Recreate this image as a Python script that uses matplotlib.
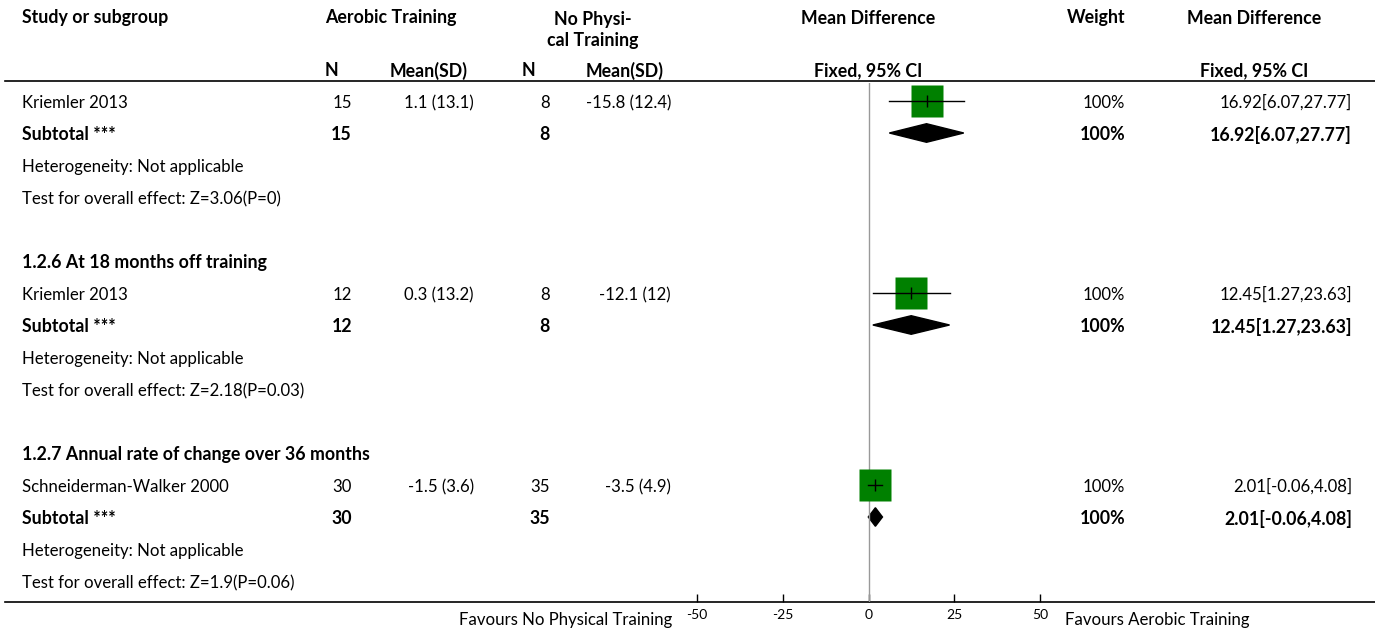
import matplotlib
matplotlib.use('Agg')
import matplotlib.pyplot as plt
from matplotlib.patches import Polygon

plt.rcParams['font.family'] = ['Lato', 'DejaVu Sans']

# rows of the forest table, top to bottom
labels = ['Kriemler 2013', 'Subtotal ***', 'Heterogeneity: Not applicable',
          'Test for overall effect: Z=3.06(P=0)', '',
          '1.2.6 At 18 months off training', 'Kriemler 2013', 'Subtotal ***',
          'Heterogeneity: Not applicable', 'Test for overall effect: Z=2.18(P=0.03)', '',
          '1.2.7 Annual rate of change over 36 months', 'Schneiderman-Walker 2000',
          'Subtotal ***', 'Heterogeneity: Not applicable',
          'Test for overall effect: Z=1.9(P=0.06)']
kinds = ['study', 'sub', 'txt', 'txt', 'blank',
         'head', 'study', 'sub', 'txt', 'txt', 'blank',
         'head', 'study', 'sub', 'txt', 'txt']
n_aer = ['15', '15', '', '', '', '', '12', '12', '', '', '', '', '30', '30', '', '']
mean_aer = ['1.1 (13.1)', '', '', '', '', '', '0.3 (13.2)', '', '', '', '', '', '-1.5 (3.6)', '', '', '']
n_ctl = ['8', '8', '', '', '', '', '8', '8', '', '', '', '', '35', '35', '', '']
mean_ctl = ['-15.8 (12.4)', '', '', '', '', '', '-12.1 (12)', '', '', '', '', '', '-3.5 (4.9)', '', '', '']
weight = ['100%', '100%', '', '', '', '', '100%', '100%', '', '', '', '', '100%', '100%', '', '']
md = [16.92, 16.92, None, None, None, None, 12.45, 12.45, None, None, None, None, 2.01, 2.01, None, None]
lo = [6.07, 6.07, None, None, None, None, 1.27, 1.27, None, None, None, None, -0.06, -0.06, None, None]
hi = [27.77, 27.77, None, None, None, None, 23.63, 23.63, None, None, None, None, 4.08, 4.08, None, None]
ticks = [-50, -25, 0, 25, 50]

W, H = 1375, 633
ROW0, STEP = 101, 32
DY = 0.06  # small nudge so text sits on the row centre


def py(px):
    return (px - ROW0) / STEP


fig = plt.figure(figsize=(W / 100, H / 100), dpi=100)
ax = fig.add_axes([0, 0, 1, 1])
ax.set_xlim(0, W)
ax.set_ylim(py(H), py(0))
ax.axis('off')

fs = 12.1
bold = dict(fontsize=12.8, fontweight='bold', va='center')
norm = dict(fontsize=fs, va='center')

# headers
ax.text(22, py(18), 'Study or subgroup', ha='left', **bold)
ax.text(391, py(18), 'Aerobic Training', ha='center', **bold)
ax.text(593, py(30), 'No Physi-\ncal Training', ha='center', multialignment='center',
        linespacing=1.25, **bold)
ax.text(868, py(18), 'Mean Difference', ha='center', **bold)
ax.text(1096, py(18), 'Weight', ha='center', **bold)
ax.text(1254, py(18), 'Mean Difference', ha='center', **bold)
for x, t in [(331, 'N'), (429, 'Mean(SD)'), (528, 'N'), (625, 'Mean(SD)'),
             (868, 'Fixed, 95% CI'), (1254, 'Fixed, 95% CI')]:
    ax.text(x, py(71), t, ha='center', **bold)
ax.plot([5, W], [py(81), py(81)], color='black', lw=1.2)
ax.plot([5, W], [py(602), py(602)], color='black', lw=1.2)

for i, lab in enumerate(labels):
    k = kinds[i]
    st = bold if k in ('sub', 'head') else norm
    y = i + DY
    ax.text(22, y, lab, ha='left', **st)
    ax.text(352, y, n_aer[i], ha='right', **st)
    ax.text(474, y, mean_aer[i], ha='right', **st)
    ax.text(550, y, n_ctl[i], ha='right', **st)
    ax.text(671, y, mean_ctl[i], ha='right', **st)
    ax.text(1125, y, weight[i], ha='right', **st)
    if md[i] is not None:
        ax.text(1352, y, f'{md[i]:.2f}[{lo[i]:.2f},{hi[i]:.2f}]', ha='right', **st)

ax.text(672, py(620), 'Favours No Physical Training', ha='right', **norm)
ax.text(1065, py(620), 'Favours Aerobic Training', ha='left', **norm)

# forest panel
fx = fig.add_axes([697 / W, (H - 602) / H, 343 / W, (602 - 83) / H])
fx.set_xlim(-50, 50)
fx.set_ylim(py(602), py(83))
fx.patch.set_alpha(0)
for s in ['top', 'left', 'right', 'bottom']:
    fx.spines[s].set_visible(False)
fx.set_yticks([])
fx.set_xticks(ticks)
fx.set_xticklabels([str(t) for t in ticks])
fx.tick_params(axis='x', direction='in', length=6, width=1, labelsize=10, pad=5)
fx.axvline(0, color='#999999', lw=1)

for i in range(len(labels)):
    if md[i] is None:
        continue
    if kinds[i] == 'study':
        fx.plot(md[i], i, marker='s', ms=22.5, mfc='#008000', mec='none', zorder=2)
        fx.plot([lo[i], hi[i]], [i, i], color='black', lw=1, zorder=3)
        fx.plot(md[i], i, marker='|', ms=8, mec='black', mew=1, zorder=3)
    else:
        fx.add_patch(Polygon([(lo[i], i), (md[i], i - 0.29), (hi[i], i), (md[i], i + 0.29)],
                             closed=True, color='black'))

fig.savefig('out.png', dpi=100)
